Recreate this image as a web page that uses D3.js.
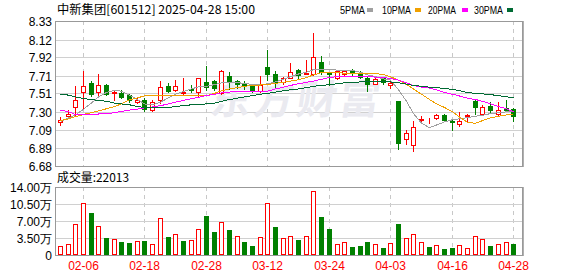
<!DOCTYPE html>
<html><head><meta charset="utf-8">
<script src="https://cdn.jsdelivr.net/npm/d3@7/dist/d3.min.js"></script>
<style>html,body{margin:0;padding:0;background:#fff;}svg{display:block;}</style>
</head><body>
<script>
const dates = ["01-24","01-27","02-05","02-06","02-07","02-10","02-11","02-12","02-13","02-14","02-17","02-18","02-19","02-20","02-21","02-24","02-25","02-26","02-27","02-28","03-03","03-04","03-05","03-06","03-07","03-10","03-11","03-12","03-13","03-14","03-17","03-18","03-19","03-20","03-21","03-24","03-25","03-26","03-27","03-28","03-31","04-01","04-02","04-03","04-07","04-08","04-09","04-10","04-11","04-14","04-15","04-16","04-17","04-18","04-21","04-22","04-23","04-24","04-25","04-28"];
const open  = [7.18,7.25,7.35,7.52,7.63,7.52,7.61,7.51,7.51,7.49,7.41,7.43,7.32,7.43,7.59,7.55,7.51,7.565,7.52,7.64,7.65,7.51,7.71,7.65,7.62,7.59,7.54,7.81,7.73,7.64,7.69,7.78,7.73,7.73,7.87,7.74,7.68,7.73,7.78,7.74,7.69,7.62,7.68,7.60,7.42,6.99,6.92,7.21,7.19,7.23,7.26,7.20,7.16,7.25,7.42,7.27,7.37,7.27,7.34,7.33];
const high  = [7.24,7.32,7.59,7.76,7.65,7.73,7.62,7.55,7.55,7.50,7.46,7.46,7.44,7.65,7.63,7.66,7.69,7.60,7.69,7.82,7.66,7.78,7.75,7.66,7.65,7.62,7.71,8.00,7.76,7.70,7.86,7.79,7.89,8.20,7.93,7.745,7.78,7.78,7.79,7.76,7.70,7.68,7.70,7.65,7.42,7.09,7.20,7.25,7.23,7.27,7.27,7.21,7.30,7.28,7.43,7.38,7.41,7.41,7.43,7.34];
const low   = [7.15,7.23,7.25,7.33,7.48,7.48,7.49,7.43,7.46,7.41,7.40,7.31,7.31,7.40,7.52,7.54,7.50,7.53,7.47,7.55,7.55,7.50,7.56,7.57,7.56,7.52,7.52,7.66,7.57,7.62,7.68,7.67,7.73,7.72,7.73,7.60,7.67,7.72,7.72,7.69,7.54,7.62,7.62,7.57,6.88,6.93,6.85,7.19,7.17,7.22,7.19,7.09,7.14,7.20,7.28,7.26,7.30,7.26,7.31,7.20];
const close = [7.21,7.27,7.43,7.59,7.50,7.60,7.50,7.52,7.47,7.44,7.44,7.33,7.41,7.58,7.54,7.59,7.52,7.55,7.68,7.58,7.57,7.77,7.64,7.62,7.59,7.54,7.60,7.73,7.64,7.68,7.75,7.72,7.74,7.92,7.75,7.735,7.76,7.77,7.75,7.70,7.62,7.67,7.64,7.63,6.95,7.06,7.13,7.22,7.20,7.26,7.21,7.18,7.20,7.26,7.35,7.36,7.32,7.32,7.325,7.25];
const ma5  = [7.19,7.23,7.265,7.33,7.40,7.47,7.52,7.545,7.535,7.49,7.44,7.39,7.38,7.41,7.46,7.50,7.53,7.56,7.585,7.59,7.61,7.63,7.63,7.63,7.625,7.61,7.605,7.62,7.64,7.67,7.70,7.73,7.75,7.78,7.785,7.78,7.775,7.77,7.77,7.75,7.72,7.70,7.675,7.66,7.55,7.42,7.28,7.17,7.12,7.15,7.185,7.21,7.22,7.235,7.25,7.26,7.28,7.29,7.30,7.31];
const ma10 = [7.20,7.22,7.245,7.27,7.29,7.31,7.335,7.36,7.39,7.435,7.46,7.48,7.48,7.48,7.48,7.48,7.48,7.48,7.48,7.48,7.51,7.54,7.56,7.575,7.59,7.60,7.605,7.61,7.625,7.635,7.65,7.665,7.69,7.72,7.745,7.75,7.745,7.74,7.74,7.74,7.74,7.735,7.725,7.70,7.66,7.61,7.56,7.50,7.44,7.39,7.35,7.30,7.24,7.18,7.17,7.20,7.23,7.25,7.265,7.27];
const ma20 = [7.32,7.30,7.27,7.27,7.27,7.275,7.28,7.29,7.305,7.32,7.33,7.345,7.355,7.37,7.39,7.41,7.43,7.45,7.465,7.485,7.50,7.515,7.525,7.53,7.53,7.53,7.53,7.535,7.56,7.58,7.60,7.62,7.635,7.65,7.67,7.69,7.70,7.70,7.70,7.70,7.70,7.695,7.69,7.68,7.66,7.63,7.60,7.58,7.57,7.55,7.52,7.50,7.48,7.455,7.44,7.42,7.39,7.36,7.335,7.30];
const ma30 = [7.50,7.49,7.47,7.45,7.44,7.43,7.42,7.40,7.39,7.38,7.36,7.35,7.345,7.345,7.35,7.36,7.37,7.38,7.385,7.39,7.40,7.42,7.44,7.455,7.47,7.485,7.50,7.51,7.525,7.54,7.55,7.56,7.575,7.59,7.60,7.61,7.62,7.63,7.635,7.64,7.64,7.64,7.64,7.64,7.63,7.615,7.60,7.59,7.58,7.575,7.565,7.555,7.54,7.52,7.51,7.505,7.495,7.485,7.47,7.46];
const volume = [1.72,2.07,6.4,10.55,8.55,5.8,3.38,3.3,2.55,2.35,2.7,2.76,2.07,7.45,3.6,4.14,2.76,2.9,5.17,7.93,4.62,6.62,4.97,3.8,2.55,1.72,3.52,10.55,5.66,3.38,3.72,2.97,3.8,13.1,7.72,5.24,2.07,2.48,1.52,1.72,2.55,2.07,1.31,2.28,6.28,3.31,4.14,2.48,1.52,1.86,1.1,1.31,1.86,1.31,3.8,3.1,1.72,2.07,2.48,2.2];
const volUp = [1,1,1,1,0,1,0,1,0,0,1,0,1,1,0,1,0,1,1,0,0,1,0,1,0,0,1,1,0,1,1,0,1,1,0,0,1,1,0,0,0,1,0,1,0,1,1,1,0,1,0,0,1,1,1,1,0,1,1,0];
const xTicks = ["02-06","02-18","02-28","03-12","03-24","04-03","04-16","04-28"];
const yTicks = [8.33,8.12,7.92,7.71,7.51,7.30,7.09,6.89,6.68];
const volTicks = [0,3.5,7,10.5,14];
const volTickLabels = ["0","3.50万","7.00万","10.50万","14.00万"];
const title = "中新集团[601512] 2025-04-28 15:00";
const volTitle = "成交量:22013";
const legendNames = ["5PMA","10PMA","20PMA","30PMA"];
const maColors = ["#a0a0a0","#f0a000","#ff00ff","#006a33"];

const W = 578, H = 276;
const L = 55, R = 522;
const mainTop = 21.3, mainBot = 166.3;
const volTop = 186.7, volBot = 254.5;
const RED = "#ff0000", GREEN = "#008000";
const font = "'Liberation Sans', Arial, sans-serif";

const svg = d3.select("body").append("svg").attr("width", W).attr("height", H);

const x = d3.scalePoint().domain(dates).range([60, 513.2]);
const y = d3.scaleLinear().domain([6.68, 8.33]).range([mainBot, mainTop]);
const yv = d3.scaleLinear().domain([0, 14]).range([volBot, volTop]);
const cx = d => Math.round(x(d));

// title & legend
svg.append("text").attr("x", 57).attr("y", 14).attr("font-family", "'Noto Sans CJK SC', sans-serif")
  .attr("font-size", 12).attr("textLength", 198).attr("lengthAdjust", "spacingAndGlyphs").attr("fill", "#000").text(title);
const legX = [340, 382, 428, 474], legW = [25, 29, 28, 29], sqX = [367, 415, 462, 507];
legendNames.forEach((n, i) => {
  svg.append("text").attr("x", legX[i]).attr("y", 14).attr("font-family", font).attr("font-size", 11)
    .attr("textLength", legW[i]).attr("lengthAdjust", "spacingAndGlyphs").attr("fill", "#000").text(n);
  svg.append("rect").attr("x", sqX[i]).attr("y", 8).attr("width", 6).attr("height", 4).attr("fill", maColors[i]);
});

// main grid
const gMain = svg.append("g");
yTicks.forEach(t => {
  const yy = Math.round(y(t)) + 0.5;
  gMain.append("line").attr("x1", L).attr("x2", R).attr("y1", yy).attr("y2", yy)
    .attr("stroke", "#d0d0d0").attr("shape-rendering", "crispEdges");
  gMain.append("text").attr("x", 52).attr("y", yy + 4).attr("text-anchor", "end")
    .attr("font-family", font).attr("font-size", 12).attr("fill", "#000").text(t.toFixed(2));
});
xTicks.forEach(d => {
  const xx = cx(d) + 0.5;
  [[mainTop, mainBot], [volTop, volBot]].forEach(([a, b]) => {
    svg.append("line").attr("x1", xx).attr("x2", xx).attr("y1", a).attr("y2", b)
      .attr("stroke", "#c8c8c8").attr("stroke-dasharray", "4,4").attr("shape-rendering", "crispEdges");
  });
  svg.append("text").attr("x", xx).attr("y", 270).attr("text-anchor", "middle")
    .attr("font-family", font).attr("font-size", 12).attr("fill", RED).text(d);
});

// watermark
svg.append("text").attr("x", 210).attr("y", 114).attr("font-family", "'Noto Sans CJK SC', sans-serif")
  .attr("font-size", 40).attr("font-weight", "bold").attr("letter-spacing", 3)
  .attr("transform", "skewX(-8) translate(15,0)")
  .attr("fill", "#eaeaf0").text("东方财富");

// candles
const gC = svg.append("g").attr("shape-rendering", "crispEdges");
dates.forEach((d, i) => {
  const c = cx(d);
  const up = close[i] >= open[i];
  const col = up ? RED : GREEN;
  gC.append("line").attr("x1", c + 0.5).attr("x2", c + 0.5)
    .attr("y1", Math.round(y(high[i]))).attr("y2", Math.round(y(low[i])) + 1).attr("stroke", col);
  const top = Math.round(y(Math.max(open[i], close[i])));
  const bot = Math.round(y(Math.min(open[i], close[i])));
  if (up) {
    gC.append("rect").attr("x", c - 1.5).attr("y", top + 0.5).attr("width", 4)
      .attr("height", Math.max(0, bot - top)).attr("fill", "#fff").attr("stroke", RED);
  } else {
    gC.append("rect").attr("x", c - 2).attr("y", top).attr("width", 5)
      .attr("height", Math.max(1, bot - top + 1)).attr("fill", GREEN);
  }
});

// MA lines
[ma5, ma10, ma20, ma30].forEach((arr, k) => {
  const line = d3.line().x((v, i) => cx(dates[i]) + 0.5).y(v => y(v));
  svg.append("path").attr("d", line(arr)).attr("fill", "none").attr("stroke", maColors[k])
    .attr("stroke-width", 1).attr("shape-rendering", "crispEdges");
});

// main frame
svg.append("rect").attr("x", L + 0.5).attr("y", Math.round(mainTop) + 0.5).attr("width", R - L)
  .attr("height", Math.round(mainBot) - Math.round(mainTop)).attr("fill", "none").attr("stroke", "#999")
  .attr("shape-rendering", "crispEdges");
svg.append("line").attr("x1", R + 1.5).attr("x2", R + 1.5).attr("y1", Math.round(mainTop)).attr("y2", Math.round(mainBot) + 1)
  .attr("stroke", "#b0b0b0").attr("shape-rendering", "crispEdges");

// volume panel
svg.append("text").attr("x", 57).attr("y", 182).attr("font-family", "'Noto Sans CJK SC', sans-serif")
  .attr("font-size", 12).attr("textLength", 72).attr("lengthAdjust", "spacingAndGlyphs").attr("fill", "#000").text(volTitle);
volTicks.forEach((t, i) => {
  const yy = Math.round(yv(t)) + 0.5;
  if (t > 0 && t < 14) svg.append("line").attr("x1", L).attr("x2", R).attr("y1", yy).attr("y2", yy)
    .attr("stroke", "#d0d0d0").attr("shape-rendering", "crispEdges");
  svg.append("text").attr("x", 52).attr("y", yy + 4).attr("text-anchor", "end")
    .attr("font-family", font).attr("font-size", 12).attr("fill", "#000").text(volTickLabels[i]);
});
const gV = svg.append("g").attr("shape-rendering", "crispEdges");
dates.forEach((d, i) => {
  const c = cx(d);
  const top = Math.round(yv(volume[i]));
  const base = Math.round(yv(0));
  if (volUp[i]) {
    gV.append("rect").attr("x", c - 1.5).attr("y", top + 0.5).attr("width", 4).attr("height", base - top - 1)
      .attr("fill", "#fff").attr("stroke", RED);
  } else {
    gV.append("rect").attr("x", c - 2).attr("y", top).attr("width", 5).attr("height", base - top)
      .attr("fill", GREEN);
  }
});
svg.append("rect").attr("x", L + 0.5).attr("y", Math.round(volTop) + 0.5).attr("width", R - L)
  .attr("height", Math.round(volBot) - Math.round(volTop)).attr("fill", "none").attr("stroke", "#999")
  .attr("shape-rendering", "crispEdges");
svg.append("line").attr("x1", R + 1.5).attr("x2", R + 1.5).attr("y1", Math.round(volTop)).attr("y2", Math.round(volBot) + 1)
  .attr("stroke", "#b0b0b0").attr("shape-rendering", "crispEdges");
</script>
</body></html>
